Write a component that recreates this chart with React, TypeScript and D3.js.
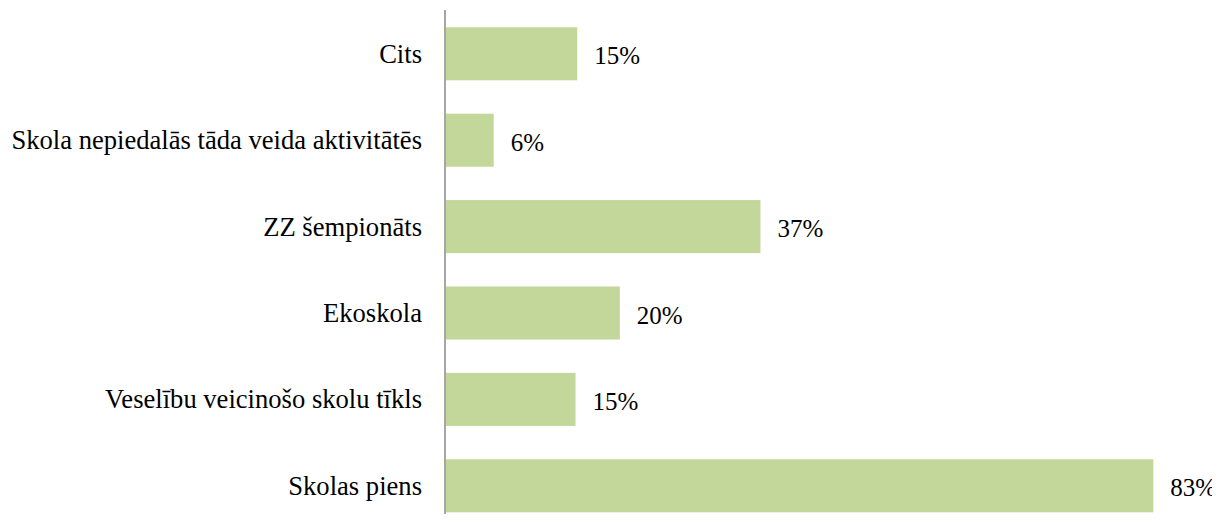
import React from "react";
import * as d3 from "d3";

// categories top to bottom, values in percent
const categories = [
  "Cits",
  "Skola nepiedalās tāda veida aktivitātēs",
  "ZZ šempionāts",
  "Ekoskola",
  "Veselību veicinošo skolu tīkls",
  "Skolas piens",
];
const values = [15.4, 5.6, 36.9, 20.4, 15.2, 83];

const FONT = "'Liberation Serif', 'Times New Roman', serif";
const width = 1220;
const height = 522;
const x0 = 446;

const App: React.FC = () => {
  const x = d3.scaleLinear().domain([0, 83]).range([x0, 1153.3]);
  const y = d3
    .scaleBand<string>()
    .domain(categories)
    .range([10.6, 529])
    .paddingInner(0.386)
    .paddingOuter(0.193);

  const data = categories.map((c, i) => ({ c, v: values[i] }));
  const mid = (c: string) => y(c)! + y.bandwidth() / 2;

  return (
    <div style={{ margin: -8 }}>
      <svg width={width} height={height} style={{ display: "block" }}>
        <g>
          {data.map((d) => (
            <rect
              key={d.c}
              x={x(0)}
              y={y(d.c)}
              width={x(d.v) - x(0)}
              height={y.bandwidth()}
              fill="#c4d79b"
            />
          ))}
        </g>
        {/* axis line */}
        <line x1={x0 - 1} x2={x0 - 1} y1={10} y2={height} stroke="#888" strokeWidth={1.5} />
        <g fontFamily={FONT} fill="#000">
          {data.map((d) => (
            <text key={d.c} x={422} y={mid(d.c)} dy="0.34em" textAnchor="end" fontSize={26.6}>
              {d.c}
            </text>
          ))}
          {data.map((d) => (
            <text key={d.c + "v"} x={x(d.v) + 17} y={mid(d.c)} dy="0.42em" fontSize={25}>
              {`${Math.round(d.v)}%`}
            </text>
          ))}
        </g>
      </svg>
    </div>
  );
};

export default App;
